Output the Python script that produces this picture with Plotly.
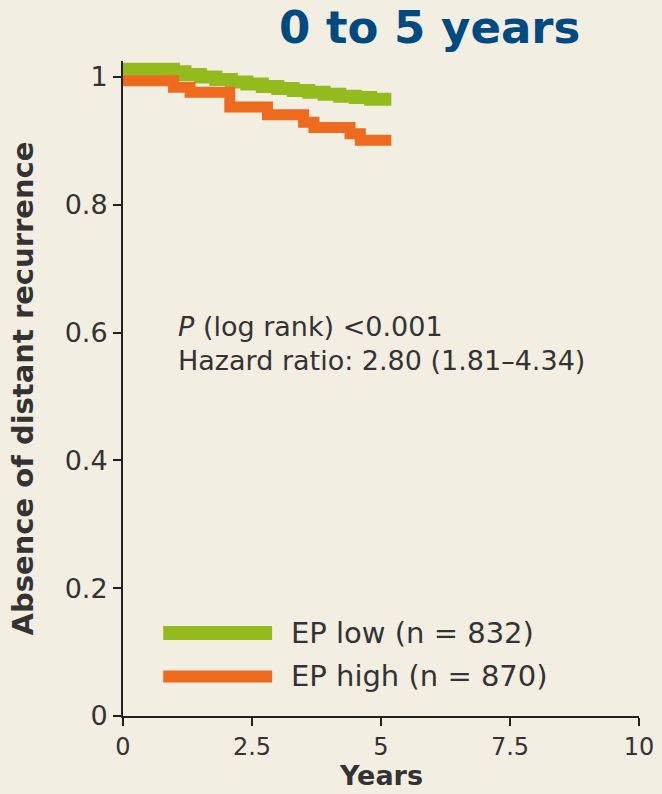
import plotly.graph_objects as go

# Data (Kaplan-Meier style step curves)
years_low = [0, 0.98, 1.2, 1.5, 1.8, 2.1, 2.4, 2.7, 3.0, 3.3, 3.6, 3.9, 4.2, 4.5, 4.8, 5.2]
surv_low = [1.012, 1.008, 1.004, 1.000, 0.996, 0.992, 0.989, 0.985, 0.982, 0.979, 0.976, 0.973, 0.970, 0.968, 0.965, 0.965]

years_high = [0, 0.98, 1.3, 2.07, 2.8, 3.5, 3.7, 4.4, 4.6, 5.2]
surv_high = [0.994, 0.984, 0.976, 0.953, 0.941, 0.929, 0.921, 0.911, 0.901, 0.901]

legend_labels = ["EP low (n = 832)", "EP high (n = 870)"]
colors = ["#94bb1e", "#ee6a1f"]

x_ticks = [0, 2.5, 5, 7.5, 10]
x_ticktext = ["0", "2.5", "5", "7.5", "10"]
y_ticks = [0, 0.2, 0.4, 0.6, 0.8, 1]
y_ticktext = ["0", "0.2", "0.4", "0.6", "0.8", "1"]

bg = "#f2eee2"
txt = "#333333"
font_family = "DejaVu Sans, Verdana, sans-serif"

fig = go.Figure()
fig.add_trace(go.Scatter(x=years_low, y=surv_low, mode="lines", line=dict(shape="hv", color=colors[0], width=13),
                         name=legend_labels[0], showlegend=False))
fig.add_trace(go.Scatter(x=years_high, y=surv_high, mode="lines", line=dict(shape="hv", color=colors[1], width=11),
                         name=legend_labels[1], showlegend=False))

# Manual legend (long swatches as in the reference)
legend_y = [0.130, 0.062]
widths = [14, 12]
for i in range(2):
    fig.add_shape(type="line", xref="x", yref="y", x0=0.78, x1=2.89, y0=legend_y[i], y1=legend_y[i],
                  line=dict(color=colors[i], width=widths[i]))
    fig.add_annotation(xref="x", yref="y", x=3.22, y=legend_y[i], text=legend_labels[i], showarrow=False,
                       xanchor="left", yanchor="middle", font=dict(size=29, color=txt, family=font_family))

fig.add_annotation(xref="x", yref="y", x=1.03, y=0.610, text="<i>P</i> (log rank) <0.001", showarrow=False,
                   xanchor="left", yanchor="middle", font=dict(size=27, color=txt, family=font_family))
fig.add_annotation(xref="x", yref="y", x=1.03, y=0.556, text="Hazard ratio: 2.80 (1.81–4.34)", showarrow=False,
                   xanchor="left", yanchor="middle", font=dict(size=27, color=txt, family=font_family))

# x-axis title as annotation below tick labels
fig.add_annotation(xref="paper", yref="paper", x=0.5, y=-0.0916, text="<b>Years</b>", showarrow=False,
                   xanchor="center", yanchor="middle", font=dict(size=27, color=txt, family=font_family))

fig.update_layout(
    width=662, height=794,
    margin=dict(l=123, r=23, t=61, b=78),
    paper_bgcolor=bg, plot_bgcolor=bg,
    showlegend=False,
    title=dict(text="<b>0 to 5 years</b>", x=0.649, xanchor="center", y=0.966, yanchor="middle",
               font=dict(size=45, color="#004a80", family=font_family)),
    font=dict(family=font_family, color=txt),
)
fig.update_xaxes(range=[0, 10], tickvals=x_ticks, ticktext=x_ticktext, showgrid=False, zeroline=False,
                 automargin=False,
                 showline=True, linecolor="#222", linewidth=2, ticks="outside", ticklen=8, tickwidth=2,
                 tickcolor="#222", tickfont=dict(size=24, color=txt))
fig.update_yaxes(range=[0, 1.025], tickvals=y_ticks, ticktext=y_ticktext, showgrid=False, zeroline=False,
                 automargin=False,
                 showline=True, linecolor="#222", linewidth=2, ticks="outside", ticklen=8, tickwidth=2,
                 tickcolor="#222", tickfont=dict(size=27, color=txt),
                 title=dict(text="<b>Absence of distant recurrence</b>", font=dict(size=29, color=txt), standoff=22))

fig.write_html("out.html", config={"displayModeBar": False},
               post_script="document.body.style.margin='0';document.body.style.padding='0';")
